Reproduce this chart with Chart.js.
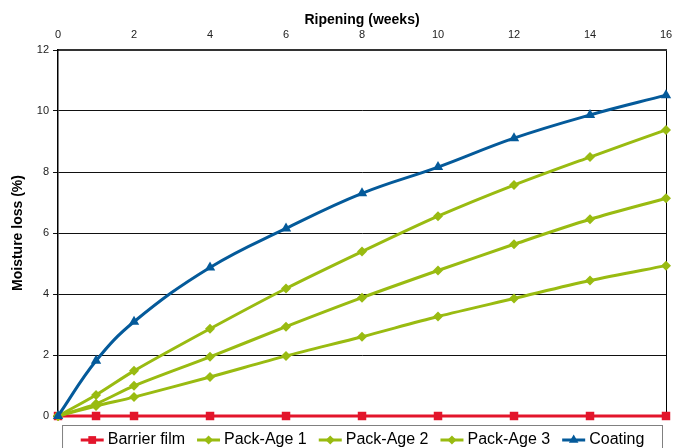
<!DOCTYPE html>
<html><head><meta charset="utf-8">
<script src="https://cdn.jsdelivr.net/npm/chart.js@4.4.0/dist/chart.umd.min.js"></script>
<style>html,body{margin:0;padding:0;background:#fff}#wrap{width:682px;height:448px}</style>
</head><body><div id="wrap"><canvas id="c" width="682" height="448"></canvas></div>
<script>
const weeks = [0, 1, 2, 4, 6, 8, 10, 12, 14, 16];
const barrierFilm = [0, 0, 0, 0, 0, 0, 0, 0, 0, 0];
const packAge1 = [0, 0.69, 1.48, 2.86, 4.18, 5.39, 6.55, 7.57, 8.49, 9.38];
const packAge2 = [0, 0.40, 0.99, 1.94, 2.93, 3.88, 4.77, 5.63, 6.45, 7.14];
const packAge3 = [0, 0.33, 0.62, 1.28, 1.97, 2.60, 3.26, 3.85, 4.44, 4.93];
const coating = [0, 1.81, 3.09, 4.87, 6.15, 7.30, 8.16, 9.11, 9.87, 10.52];
const xTicks = [0, 2, 4, 6, 8, 10, 12, 14, 16];
const yTicks = [0, 2, 4, 6, 8, 10, 12];

const RED = '#E3152B', GREEN = '#99BB11', BLUE = '#045A9A';
const pts = arr => arr.map((v, i) => ({x: weeks[i], y: v}));

function ds(label, data, color, style, radius, order, tension) {
  return {label, data: pts(data), borderColor: color, backgroundColor: color,
    borderWidth: 3, pointStyle: style, pointRadius: radius, pointHoverRadius: radius,
    pointBorderWidth: 0, tension: tension, order: order, clip: false};
}

const legendPlugin = {
  id: 'legendDeco',
  afterDraw(chart) {
    const lg = chart.legend, ctx = chart.ctx;
    if (!lg || !lg.legendHitBoxes) return;
    ctx.save();
    ctx.strokeStyle = '#808080'; ctx.lineWidth = 1;
    ctx.strokeRect(chart.chartArea.left + 4.5, 425.5, chart.chartArea.right - chart.chartArea.left - 8, 60);
    const dsets = chart.data.datasets;
    lg.legendHitBoxes.forEach((hb, i) => {
      const d = dsets[lg.legendItems[i].datasetIndex];
      const cy = hb.top + hb.height / 2;
      const x0 = hb.left + 1, x1 = hb.left + 24;
      ctx.strokeStyle = d.borderColor; ctx.lineWidth = 3;
      ctx.beginPath(); ctx.moveTo(x0, cy); ctx.lineTo(x1, cy); ctx.stroke();
      ctx.fillStyle = d.backgroundColor;
      Chart.helpers.drawPoint(ctx, {pointStyle: d.pointStyle, radius: d.pointRadius - 0.5, borderWidth: 0, rotation: 0}, (x0 + x1) / 2, cy);
    });
    ctx.restore();
  }
};

new Chart(document.getElementById('c'), {
  type: 'line',
  data: {
    datasets: [
      ds('Barrier film', barrierFilm, RED, 'rect', 6, 4, 0),
      ds('Pack-Age 1', packAge1, GREEN, 'rectRot', 5, 3, 0.3),
      ds('Pack-Age 2', packAge2, GREEN, 'rectRot', 5, 2, 0.3),
      ds('Pack-Age 3', packAge3, GREEN, 'rectRot', 5, 1, 0.3),
      ds('Coating', coating, BLUE, 'triangle', 6, 0, 0.4)
    ]
  },
  options: {
    responsive: false, animation: false, devicePixelRatio: 1,
    layout: {padding: {left: 10, right: 16, top: 12, bottom: -10}},
    plugins: {
      tooltip: {enabled: false},
      legend: {
        position: 'bottom', fullSize: false,
        title: {display: true, text: '', font: {size: 5, lineHeight: 1}, padding: 0},
        labels: {
          font: {family: 'Liberation Sans, Arial, sans-serif', size: 16},
          color: '#000', boxWidth: 20, boxHeight: 15, padding: 11,
          sort: (a, b) => a.datasetIndex - b.datasetIndex,
          generateLabels(chart) {
            return chart.data.datasets.map((d, i) => ({text: d.label, datasetIndex: i,
              fillStyle: 'rgba(0,0,0,0)', strokeStyle: 'rgba(0,0,0,0)', lineWidth: 0, fontColor: '#000'}));
          }
        }
      }
    },
    scales: {
      x: {
        type: 'linear', position: 'top', min: 0, max: 16,
        afterBuildTicks: s => { s.ticks = xTicks.map(v => ({value: v})); },
        ticks: {font: {family: 'Liberation Sans, Arial, sans-serif', size: 11}, color: '#222', padding: 8, maxRotation: 0},
        grid: {drawTicks: false, color: c => (c.tick && c.tick.value === 16) ? '#000' : 'rgba(0,0,0,0)', lineWidth: 1},
        border: {display: true, color: '#333', width: 2},
        title: {display: true, text: 'Ripening (weeks)', font: {family: 'Liberation Sans, Arial, sans-serif', size: 14, weight: 'bold'}, color: '#000', padding: {top: 0, bottom: -8}}
      },
      y: {
        type: 'linear', min: 0, max: 12,
        afterBuildTicks: s => { s.ticks = yTicks.map(v => ({value: v})); },
        ticks: {font: {family: 'Liberation Sans, Arial, sans-serif', size: 11}, color: '#222', padding: 4},
        grid: {color: '#111', lineWidth: 1, tickLength: 5, tickColor: '#111'},
        border: {display: true, color: '#000', width: 1.5},
        title: {display: true, text: 'Moisture loss (%)', font: {family: 'Liberation Sans, Arial, sans-serif', size: 14, weight: 'bold'}, color: '#000', padding: {top: 0, bottom: 6}}
      }
    }
  },
  plugins: [legendPlugin]
});
</script></body></html>
